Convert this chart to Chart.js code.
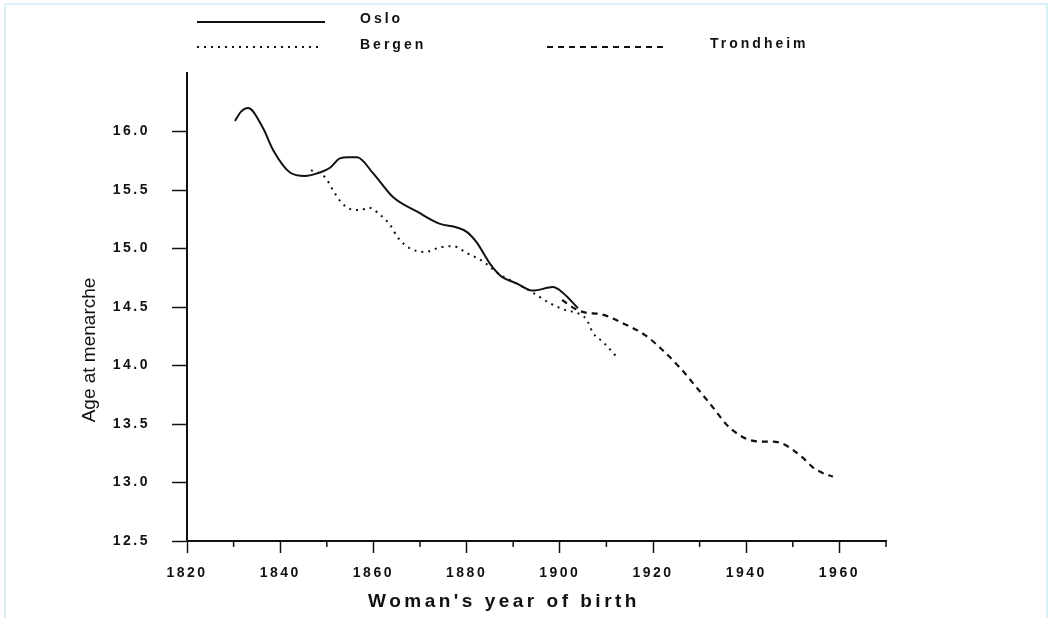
<!DOCTYPE html>
<html>
<head>
<meta charset="utf-8">
<script src="https://cdn.jsdelivr.net/npm/chart.js@4.4.1/dist/chart.umd.min.js"></script>
<style>
  html, body { margin: 0; padding: 0; background: #fff; overflow: hidden; }
  #wrap { position: relative; width: 1048px; height: 618px; }
  #frame { position: absolute; left: 4px; top: 3px; width: 1040px; height: 700px; border: 2px solid #d9f0f7; pointer-events: none; }
</style>
</head>
<body>
<div id="wrap">
  <canvas id="menarcheChart"></canvas>
  <div id="frame"></div>
</div>
<script>
// Values (year of birth, mean age at menarche)
const osloYears = [1830.3, 1831.6, 1833.1, 1836.3, 1838.5, 1842.1, 1845.3, 1848.5, 1850.7, 1852.8, 1854.6, 1856.5, 1860, 1864.2, 1869.6, 1874.3, 1877.9, 1880.1, 1882.2, 1885, 1887.2, 1890.8, 1894.3, 1898.5, 1900.7, 1903.9];
const osloAge = [16.09, 16.17, 16.2, 16.03, 15.84, 15.65, 15.62, 15.65, 15.69, 15.77, 15.78, 15.78, 15.64, 15.44, 15.31, 15.21, 15.18, 15.14, 15.05, 14.87, 14.77, 14.70, 14.64, 14.67, 14.62, 14.49];

const bergenYears = [1846.6, 1849.6, 1851.3, 1853.2, 1856, 1857.5, 1858.8, 1861.4, 1863.6, 1865.3, 1867.9, 1871.1, 1874.3, 1877.1, 1880.1, 1883.5, 1887, 1890.8, 1894.3, 1898, 1901.5, 1903.7, 1905.8, 1907.1, 1909.3, 1912.3];
const bergenAge = [15.67, 15.61, 15.50, 15.39, 15.33, 15.33, 15.35, 15.29, 15.20, 15.09, 15.00, 14.97, 15.01, 15.02, 14.96, 14.89, 14.78, 14.70, 14.62, 14.53, 14.47, 14.45, 14.39, 14.28, 14.20, 14.07];

const trondheimYears = [1900.5, 1903.5, 1905.8, 1908.6, 1913.6, 1918.3, 1922.1, 1925.8, 1929.4, 1932.9, 1935.9, 1938, 1940.2, 1943, 1945.8, 1947.9, 1950, 1952.2, 1954.3, 1956.5, 1958.6];
const trondheimAge = [14.56, 14.48, 14.45, 14.44, 14.36, 14.26, 14.13, 13.98, 13.81, 13.64, 13.49, 13.42, 13.37, 13.35, 13.35, 13.33, 13.28, 13.21, 13.13, 13.08, 13.05];

const xTicks = [1820, 1840, 1860, 1880, 1900, 1920, 1940, 1960];
const yTicks = [12.5, 13.0, 13.5, 14.0, 14.5, 15.0, 15.5, 16.0];

const ink = '#111';
const family = "'Liberation Sans', Arial, sans-serif";
Chart.defaults.font.family = family;

function toPoints(xs, ys) {
    return xs.map((x, i) => ({ x: x, y: ys[i] }));
}

// wide letter spacing like the scanned original
const spacingPlugin = {
    id: 'spacing',
    beforeDraw(chart) {
        chart.ctx.letterSpacing = '2.5px';
    }
};

// legend, axis titles and the short minor ticks
const extrasPlugin = {
    id: 'extras',
    afterDraw(chart) {
        const ctx = chart.ctx;
        const xScale = chart.scales.x;
        const area = chart.chartArea;

        ctx.save();
        ctx.strokeStyle = ink;
        ctx.lineWidth = 1.5;
        for (let v = 1830; v <= 1970; v += 20) {
            const px = xScale.getPixelForValue(v);
            ctx.beginPath();
            ctx.moveTo(px, area.bottom);
            ctx.lineTo(px, area.bottom + 6);
            ctx.stroke();
        }
        ctx.restore();

        const slots = [
            { x0: 197, x1: 325, y: 22, tx: 360, ty: 19 },
            { x0: 197, x1: 318, y: 47, tx: 360, ty: 45 },
            { x0: 547, x1: 665, y: 47, tx: 710, ty: 44 }
        ];
        chart.data.datasets.forEach((ds, i) => {
            const s = slots[i];
            ctx.save();
            ctx.strokeStyle = ink;
            ctx.lineWidth = ds.borderWidth;
            ctx.setLineDash(ds.borderDash || []);
            ctx.beginPath();
            ctx.moveTo(s.x0, s.y);
            ctx.lineTo(s.x1, s.y);
            ctx.stroke();
            ctx.setLineDash([]);
            ctx.letterSpacing = '3px';
            ctx.fillStyle = ink;
            ctx.font = 'bold 14px ' + family;
            ctx.textBaseline = 'middle';
            ctx.textAlign = 'left';
            ctx.fillText(ds.label, s.tx, s.ty);
            ctx.restore();
        });

        ctx.save();
        ctx.fillStyle = ink;
        ctx.letterSpacing = '3.5px';
        ctx.font = 'bold 19px ' + family;
        ctx.textAlign = 'center';
        ctx.textBaseline = 'middle';
        ctx.fillText("Woman's year of birth", 504, 602);
        ctx.restore();

        ctx.save();
        ctx.letterSpacing = '0px';
        ctx.translate(90, 350);
        ctx.rotate(-Math.PI / 2);
        ctx.fillStyle = ink;
        ctx.font = '19px ' + family;
        ctx.textAlign = 'center';
        ctx.textBaseline = 'middle';
        ctx.fillText('Age at menarche', 0, 0);
        ctx.restore();
    }
};

const ctx = document.getElementById('menarcheChart').getContext('2d');
const menarcheChart = new Chart(ctx, {
    type: 'line',
    data: {
        datasets: [
            {
                label: 'Oslo',
                data: toPoints(osloYears, osloAge),
                borderColor: ink,
                borderWidth: 2,
                borderDash: [],
                pointRadius: 0,
                cubicInterpolationMode: 'monotone',
                fill: false
            },
            {
                label: 'Bergen',
                data: toPoints(bergenYears, bergenAge),
                borderColor: ink,
                borderWidth: 2,
                borderDash: [2, 5],
                pointRadius: 0,
                cubicInterpolationMode: 'monotone',
                fill: false
            },
            {
                label: 'Trondheim',
                data: toPoints(trondheimYears, trondheimAge),
                borderColor: ink,
                borderWidth: 2.2,
                borderDash: [6, 5],
                pointRadius: 0,
                cubicInterpolationMode: 'monotone',
                fill: false
            }
        ]
    },
    options: {
        responsive: true,
        maintainAspectRatio: false,
        animation: false,
        layout: { padding: { top: 73, right: 162, left: 0, bottom: 0 } },
        plugins: {
            legend: { display: false },
            tooltip: { enabled: false }
        },
        scales: {
            x: {
                type: 'linear',
                min: 1820,
                max: 1970,
                afterFit: (scale) => { scale.height = 77; },
                ticks: {
                    stepSize: 10,
                    autoSkip: false,
                    maxRotation: 0,
                    padding: 12,
                    color: ink,
                    font: { size: 14, weight: 'bold' },
                    callback: (v) => xTicks.includes(v) ? String(v) : ''
                },
                grid: {
                    drawOnChartArea: false,
                    tickLength: 12,
                    tickWidth: 1.5,
                    tickColor: (c) => (c.tick && xTicks.includes(c.tick.value)) ? ink : 'rgba(0,0,0,0)'
                },
                border: { color: ink, width: 2 }
            },
            y: {
                min: 12.5,
                max: 16.5,
                afterFit: (scale) => { scale.width = 187; },
                ticks: {
                    stepSize: 0.5,
                    padding: 22,
                    color: ink,
                    font: { size: 14, weight: 'bold' },
                    callback: (v) => yTicks.includes(v) ? v.toFixed(1) : ''
                },
                grid: {
                    drawOnChartArea: false,
                    tickLength: 15,
                    tickWidth: 1.5,
                    tickColor: (c) => (c.tick && yTicks.includes(c.tick.value)) ? ink : 'rgba(0,0,0,0)'
                },
                border: { color: ink, width: 2 }
            }
        }
    },
    plugins: [spacingPlugin, extrasPlugin]
});
</script>
</body>
</html>
